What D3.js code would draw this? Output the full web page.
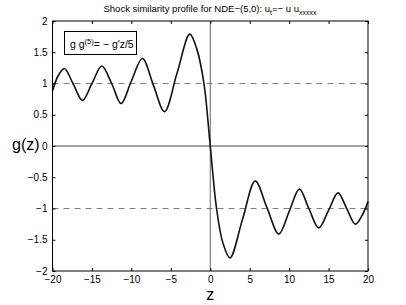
<!DOCTYPE html>
<html>
<head>
<meta charset="utf-8">
<script src="https://cdn.jsdelivr.net/npm/d3@7"></script>
<style>
    body { margin: 0; background: #fff; }
    svg { display: block; font-family: "Liberation Sans", Arial, sans-serif; }
</style>
</head>
<body>
<svg id="graphSvg" width="406" height="305"></svg>
<script>
// Values
const zValues = [-20, -19.3, -18.5, -17.4, -16.2, -15.0, -13.75, -12.5, -11.3, -10.0, -8.6, -7.2, -5.8, -4.2,
    -2.6, -1.7, -0.8, 0,
    0.8, 1.6, 2.5, 4.1, 5.7, 7.2, 8.7, 10.0, 11.3, 12.5, 13.75, 15.0, 16.2, 17.3, 18.4, 19.3, 20];
const gValues = [0.88, 1.12, 1.24, 1.0, 0.73, 1.0, 1.28, 1.0, 0.68, 1.04, 1.40, 0.97, 0.55, 1.17,
    1.79, 1.55, 1.0, 0,
    -1.0, -1.55, -1.79, -1.17, -0.56, -0.99, -1.41, -1.05, -0.69, -1.0, -1.31, -1.03, -0.75, -1.0, -1.25, -1.1, -0.89];
const xTicks = [-20, -15, -10, -5, 0, 5, 10, 15, 20];
const yTicks = [-2, -1.5, -1, -0.5, 0, 0.5, 1, 1.5, 2];
const refLines = [1, -1];

const margin = {top: 21, right: 38, bottom: 34, left: 52.5};
const width = 406, height = 305;

const svg = d3.select('#graphSvg');

const x = d3.scaleLinear()
    .domain([-20, 20])
    .range([margin.left, width - margin.right]);
const y = d3.scaleLinear()
    .domain([-2, 2])
    .range([height - margin.bottom, margin.top]);

const fmt = d => (d < 0 ? '\u2212' : '') + Math.abs(d);

// Reference dashed lines
svg.selectAll('.refLine')
    .data(refLines)
    .enter()
    .append('line')
    .attr('x1', x(-20)).attr('x2', x(20))
    .attr('y1', d => y(d)).attr('y2', d => y(d))
    .attr('stroke', '#808080')
    .attr('stroke-width', 1.2)
    .attr('stroke-dasharray', '6,5');

// Zero lines
svg.append('line')
    .attr('x1', x(-20)).attr('x2', x(20))
    .attr('y1', y(0)).attr('y2', y(0))
    .attr('stroke', '#444').attr('stroke-width', 1);
svg.append('line')
    .attr('x1', x(0)).attr('x2', x(0))
    .attr('y1', y(-2)).attr('y2', y(2))
    .attr('stroke', '#666').attr('stroke-width', 1);

// Curve
const data = zValues.map((z, i) => ({z: z, g: gValues[i]}));
svg.append('path')
    .datum(data)
    .attr('fill', 'none')
    .attr('stroke', '#111')
    .attr('stroke-width', 1.6)
    .attr('d', d3.line()
        .x(d => x(d.z))
        .y(d => y(d.g))
        .curve(d3.curveCatmullRom.alpha(0.5)));

// Axes (MATLAB-style ticks inside, box around)
const tickLen = 3;
svg.append('g')
    .attr('transform', `translate(0,${y(-2)})`)
    .call(d3.axisBottom(x).tickValues(xTicks).tickSize(-tickLen).tickPadding(5).tickFormat(fmt))
    .call(g => g.select('.domain').remove());
svg.append('g')
    .attr('transform', `translate(0,${y(2)})`)
    .call(d3.axisTop(x).tickValues(xTicks).tickSize(-tickLen).tickFormat(''))
    .call(g => g.select('.domain').remove());
svg.append('g')
    .attr('transform', `translate(${x(-20)},0)`)
    .call(d3.axisLeft(y).tickValues(yTicks).tickSize(-tickLen).tickPadding(5).tickFormat(fmt))
    .call(g => g.select('.domain').remove());
svg.append('g')
    .attr('transform', `translate(${x(20)},0)`)
    .call(d3.axisRight(y).tickValues(yTicks).tickSize(-tickLen).tickFormat(''))
    .call(g => g.select('.domain').remove());

svg.selectAll('.tick text')
    .attr('font-size', 10)
    .attr('font-family', '"Liberation Sans", Arial, sans-serif')
    .attr('fill', '#000');
svg.selectAll('.tick line').attr('stroke', '#000');

svg.append('rect')
    .attr('x', x(-20)).attr('y', y(2))
    .attr('width', x(20) - x(-20)).attr('height', y(-2) - y(2))
    .attr('fill', 'none').attr('stroke', '#000').attr('stroke-width', 1);

// Legend box
svg.append('rect')
    .attr('x', 64.5).attr('y', 31.5)
    .attr('width', 72).attr('height', 23)
    .attr('fill', '#fff').attr('stroke', '#000').attr('stroke-width', 1);
const leg = svg.append('text')
    .attr('x', 70).attr('y', 48)
    .attr('font-size', 10.5);
leg.append('tspan').text('g g');
leg.append('tspan').attr('dy', -4).attr('font-size', 7.5).text('(5)');
leg.append('tspan').attr('dy', 4).text('= \u2212 g\u2032z/5');

// Title
const title = svg.append('text')
    .attr('x', 210).attr('y', 12)
    .attr('text-anchor', 'middle')
    .attr('font-size', 9.5);
title.append('tspan').text('Shock similarity profile for NDE\u2212(5,0): u');
title.append('tspan').attr('dy', 3).attr('font-size', 7).text('t');
title.append('tspan').attr('dy', -3).text('=\u2212 u u');
title.append('tspan').attr('dy', 3).attr('font-size', 7).text('xxxxx');

// Axis labels
svg.append('text')
    .attr('x', 12).attr('y', 150)
    .attr('font-size', 16)
    .text('g(z)');
svg.append('text')
    .attr('x', x(0)).attr('y', 300)
    .attr('text-anchor', 'middle')
    .attr('font-size', 16)
    .text('z');
</script>
</body>
</html>
